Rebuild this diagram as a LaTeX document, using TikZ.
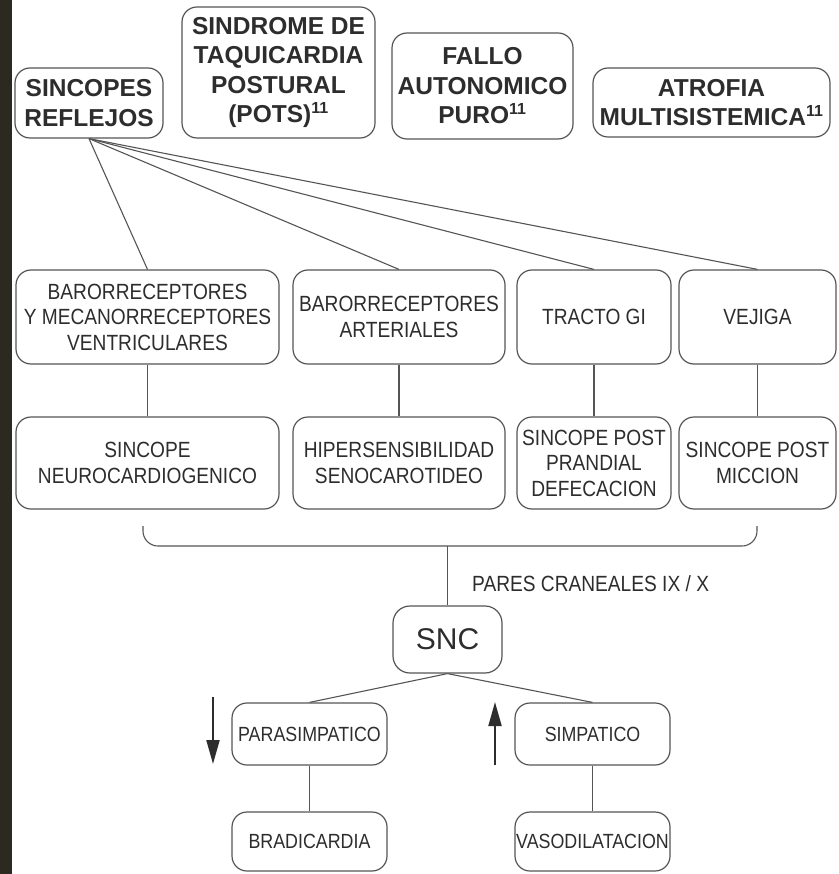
\documentclass[tikz,border=0pt]{standalone}
\usepackage{fontspec}
\usepackage{xcolor}
\setmainfont{Liberation Sans}
\newfontfamily\condfont[FakeStretch=0.87]{Liberation Sans}
\usetikzlibrary{arrows.meta}
\definecolor{inkc}{RGB}{45,45,45}
\definecolor{linec}{RGB}{85,85,85}
\definecolor{stripc}{RGB}{43,41,32}
\newcommand{\supnum}[1]{\textsuperscript{\fontsize{16}{16}\selectfont #1}}
\tikzset{box/.style = {draw=linec, line width=1.2pt, rounded corners=15pt, align=center, inner sep=0pt, text=inkc}}
\tikzset{topbox/.style = {box, font=\fontsize{24.5}{29.5}\selectfont\bfseries}}
\tikzset{midbox/.style = {box, font=\condfont\fontsize{22}{25.5}\selectfont, minimum height=94pt}}
\tikzset{lowbox/.style = {box, font=\condfont\fontsize{20.5}{25}\selectfont, minimum width=155pt}}
\tikzset{link/.style = {draw=linec, line width=1.1pt}}
\tikzset{updown/.style = {draw=inkc, line width=2pt, -{Triangle[length=24pt,width=13pt]}}}

\begin{document}
\begin{tikzpicture}[x=1pt,y=-1pt]
        \useasboundingbox (0,0) rectangle (838,874);
        \fill [white] (0,0) rectangle (838,874);
        \fill [stripc] (0,0) rectangle (12,874);
        \node [topbox, minimum width=148pt, minimum height=70pt] (reflejos) at (89,103) {SINCOPES\\REFLEJOS};
        \node [topbox, minimum width=193pt, minimum height=131pt] (pots) at (278.5,72.5) {SINDROME DE\\TAQUICARDIA\\POSTURAL\\(POTS)\supnum{11}};
        \node [topbox, minimum width=181pt, minimum height=106pt] (fallo) at (482.5,86) {FALLO\\AUTONOMICO\\PURO\supnum{11}};
        \node [topbox, minimum width=237pt, minimum height=69pt] (atrofia) at (711.5,102.5) {ATROFIA\\MULTISISTEMICA\supnum{11}};
        \node [midbox, minimum width=263pt] (baro) at (147.5,317) {BARORRECEPTORES\\Y MECANORRECEPTORES\\VENTRICULARES};
        \node [midbox, minimum width=212pt] (arter) at (399,317) {BARORRECEPTORES\\ARTERIALES};
        \node [midbox, minimum width=154pt] (tracto) at (594,317) {TRACTO GI};
        \node [midbox, minimum width=157pt] (vejiga) at (757.5,317) {VEJIGA};
        \node [midbox, minimum width=263pt, minimum height=92pt] (neuro) at (147.5,463) {SINCOPE\\NEUROCARDIOGENICO};
        \node [midbox, minimum width=212pt, minimum height=92pt] (hiper) at (399,463) {HIPERSENSIBILIDAD\\SENOCAROTIDEO};
        \node [midbox, minimum width=154pt, minimum height=92pt] (prandial) at (594,463) {SINCOPE POST\\PRANDIAL\\DEFECACION};
        \node [midbox, minimum width=157pt, minimum height=92pt] (miccion) at (757.5,463) {SINCOPE POST\\MICCION};
        \node [box, rounded corners=17pt, font=\fontsize{30}{30}\selectfont, minimum width=109pt, minimum height=67pt] (snc) at (447.5,639.5) {SNC};
        \node [anchor=west, inner sep=0pt, text=inkc, font=\condfont\fontsize{22}{22}\selectfont] (pares) at (472,584) {PARES CRANEALES IX / X};
        \node [lowbox, minimum height=62pt] (para) at (309.5,734) {PARASIMPATICO};
        \node [lowbox, minimum height=62pt] (simp) at (592.5,734) {SIMPATICO};
        \node [lowbox, minimum height=59pt] (brad) at (309.5,841.5) {BRADICARDIA};
        \node [lowbox, minimum height=59pt] (vaso) at (592.5,841.5) {VASODILATACION};
        \coordinate (join) at (447.5,546);
        \coordinate (dtop) at (213,697);
        \coordinate (dbot) at (213,764);
        \coordinate (utop) at (495,702);
        \coordinate (ubot) at (495,765);
        \draw [link] (reflejos.south) -- (baro.north);
        \draw [link] (reflejos.south) -- (arter.north);
        \draw [link] (reflejos.south) -- (tracto.north);
        \draw [link] (reflejos.south) -- (vejiga.north);
        \draw [link] (baro) -- (neuro);
        \draw [link] (arter) -- (hiper);
        \draw [link] (tracto) -- (prandial);
        \draw [link] (vejiga) -- (miccion);
        \draw [link, rounded corners=15pt] (143,526) |- (join) -| (757,526);
        \draw [link] (join) -- (snc.north);
        \draw [link] (snc.south) -- (para.north);
        \draw [link] (snc.south) -- (simp.north);
        \draw [link] (para) -- (brad);
        \draw [link] (simp) -- (vaso);
        \draw [updown] (dtop) -- (dbot);
        \draw [updown] (ubot) -- (utop);
    \end{tikzpicture}
\end{document}
